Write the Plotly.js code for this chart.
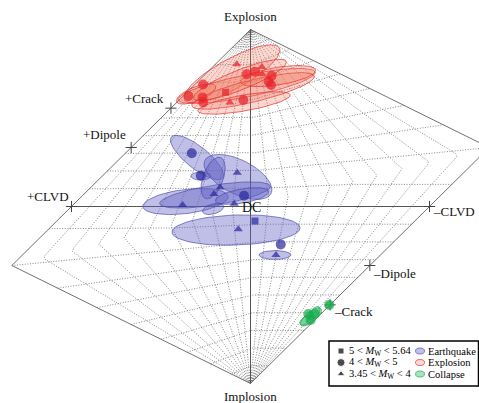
<!DOCTYPE html>
<html>
<head>
<meta charset="utf-8">
<script src="https://cdn.plot.ly/plotly-3.0.1.min.js"></script>
<style>html,body{margin:0;padding:0;background:#fff;}#chart{width:479px;height:403px;}</style>
</head>
<body>
<div id="chart"></div>
<script>
// ---------------- DATA (Hudson u-v coordinates) ----------------
// Earthquakes
const eqU   = [-0.328,-0.278,-0.074,-0.170,-0.204,-0.036,-0.379,-0.091, 0.025,-0.068, 0.169, 0.142];
const eqV   = [ 0.301, 0.174, 0.191, 0.108, 0.071, 0.061, 0.008, 0.016,-0.082,-0.129,-0.214,-0.274];
const eqMag = ['mid','mid','low','low','low','mid','low','low','high','low','mid','low'];
const eqEllU   = [-0.299,-0.070,-0.277,-0.363,-0.198,-0.209,-0.047,-0.209,-0.081, 0.137];
const eqEllV   = [ 0.277, 0.167, 0.172, 0.028, 0.065, 0.161, 0.059,-0.014,-0.133,-0.274];
const eqEllA   = [ 0.184, 0.207, 0.056, 0.240, 0.313, 0.123, 0.151, 0.061, 0.358, 0.089];
const eqEllB   = [ 0.062, 0.096, 0.023, 0.068, 0.056, 0.056, 0.040, 0.028, 0.085, 0.025];
const eqEllAng = [ -39,   -27,    0,     7,     9,    70,    10,    15,     2,     0];

// Explosions
const exU   = [-0.077,-0.021, 0.025, 0.063, 0.066, 0.118, 0.115, 0.101,-0.265,-0.347,-0.268,-0.264,-0.139,-0.115,-0.040];
const exV   = [ 0.803, 0.747, 0.762, 0.788, 0.747, 0.739, 0.686, 0.706, 0.689, 0.624, 0.616, 0.588, 0.645, 0.588, 0.602];
const exMag = ['low','mid','mid','low','low','mid','mid','mid','mid','mid','mid','mid','high','low','mid'];
const exEllU   = [-0.103,-0.022, 0.014,-0.036, 0.154,-0.304,-0.059];
const exEllV   = [ 0.749, 0.681, 0.653, 0.585, 0.737, 0.636, 0.715];
const exEllA   = [ 0.302, 0.391, 0.352, 0.262, 0.212, 0.117, 0.279];
const exEllB   = [ 0.085, 0.062, 0.062, 0.045, 0.050, 0.040, 0.056];
const exEllAng = [  29,   11.5,  13.8,  10,     9,    22,    22];

// Collapses
const coU   = [ 0.440, 0.323, 0.360, 0.336];
const coV   = [-0.556,-0.607,-0.607,-0.641];
const coMag = ['mid','mid','mid','mid'];
const coEllU   = [ 0.338, 0.316, 0.355, 0.439];
const coEllV   = [-0.624,-0.641,-0.602,-0.556];
const coEllA   = [ 0.073, 0.045, 0.045, 0.022];
const coEllB   = [ 0.028, 0.022, 0.022, 0.017];
const coEllAng = [  40,    30,    50,    30];

// Reference source types (tau, k) and their labels
const refNames = ['+Crack','+Dipole','+CLVD','–CLVD','–Dipole','–Crack'];
const refTau   = [-4/9, -2/3, -1, 1, 2/3, 4/9];
const refK     = [ 5/9,  1/3,  0, 0,-1/3,-5/9];

// Grid values
const gridT = [-0.9,-0.8,-0.7,-0.6,-0.5,-0.4,-0.3,-0.2,-0.1,0.1,0.2,0.3,0.4,0.5,0.6,0.7,0.8,0.9];
const gridK = [-0.9,-0.8,-0.7,-0.6,-0.5,-0.4,-0.3,-0.2,-0.1,0.1,0.2,0.3,0.4,0.5,0.6,0.7,0.8,0.9];

// Legend
const magLabels = ['5 &lt; <i>M</i><sub>W</sub> &lt; 5.64','4 &lt; <i>M</i><sub>W</sub> &lt; 5','3.45 &lt; <i>M</i><sub>W</sub> &lt; 4'];
const magSymbols = ['square','circle','triangle-up'];
const typeLabels = ['Earthquake','Explosion','Collapse'];

// ---------------- STYLE ----------------
const FONT = 'Liberation Serif, Times New Roman, serif';
const colors = {
  eq: {fill:'rgba(95,95,195,0.40)', line:'rgba(70,70,170,0.8)', mark:'#28289a'},
  ex: {fill:'rgba(242,110,85,0.28)', line:'rgba(228,40,40,0.85)', mark:'#e8202a'},
  co: {fill:'rgba(60,190,110,0.45)', line:'rgba(30,165,80,0.85)', mark:'#15aa48'}
};
const symOf = {high:'square', mid:'circle', low:'triangle-up'};
const sizeOf = {high:7, mid:10, low:8};

// Hudson (1989) tau-k -> u-v transform
function hud(tau, k){
  if (tau >= 0 && k >= 0){
    if (tau < 4*k) return [tau/(1 - tau/2), k/(1 - tau/2)];
    return [tau/(1 - 2*k), k/(1 - 2*k)];
  }
  if (tau <= 0 && k <= 0){
    const r = hud(-tau, -k); return [-r[0], -r[1]];
  }
  return [tau, k];
}

const traces = [];
const N = 200;

// Grid lines
const gx = [], gy = [];
gridT.forEach(T => {
  for (let i = 0; i <= N; i++){
    const k = -1 + 2*i/N; const p = hud(T*(1 - Math.abs(k)), k);
    gx.push(p[0]); gy.push(p[1]);
  }
  gx.push(null); gy.push(null);
});
gridK.forEach(k => {
  for (let i = 0; i <= N; i++){
    const T = -1 + 2*i/N; const p = hud(T*(1 - Math.abs(k)), k);
    gx.push(p[0]); gy.push(p[1]);
  }
  gx.push(null); gy.push(null);
});
traces.push({x:gx, y:gy, mode:'lines', line:{color:'#6a6a6a', width:0.8, dash:'1px,1.6px'}, hoverinfo:'skip', showlegend:false});

// Boundary (T = +1 and T = -1)
const bx = [], by = [];
[1,-1].forEach(T => {
  for (let i = 0; i <= N; i++){
    const k = -1 + 2*i/N; const p = hud(T*(1 - Math.abs(k)), k);
    bx.push(p[0]); by.push(p[1]);
  }
  bx.push(null); by.push(null);
});
traces.push({x:bx, y:by, mode:'lines', line:{color:'#707070', width:1}, hoverinfo:'skip', showlegend:false});

// Axes (k=0 and T=0)
const ax0 = hud(-1,0), ax1 = hud(1,0), ay0 = hud(0,1), ay1 = hud(0,-1);
traces.push({x:[ax0[0],ax1[0],null,ay0[0],ay1[0]], y:[ax0[1],ax1[1],null,ay0[1],ay1[1]], mode:'lines',
  line:{color:'#555', width:1}, hoverinfo:'skip', showlegend:false});

// Reference crosses
const refPts = refTau.map((t,i) => hud(t, refK[i]));
traces.push({x:refPts.map(p=>p[0]), y:refPts.map(p=>p[1]), mode:'markers',
  marker:{symbol:'cross-thin-open', size:8, color:'#444', line:{color:'#444', width:1}}, hoverinfo:'skip', showlegend:false});

// Ellipses
function ellipse(cu, cv, a, b, angDeg){
  const th = angDeg*Math.PI/180, xs = [], ys = [];
  for (let i = 0; i <= 72; i++){
    const t = 2*Math.PI*i/72;
    xs.push(cu + a*Math.cos(t)*Math.cos(th) - b*Math.sin(t)*Math.sin(th));
    ys.push(cv + a*Math.cos(t)*Math.sin(th) + b*Math.sin(t)*Math.cos(th));
  }
  return [xs, ys];
}
function addEllipses(U,V,A,B,ANG,c){
  U.forEach((u,i) => {
    const [xs,ys] = ellipse(u, V[i], A[i], B[i], ANG[i]);
    traces.push({x:xs, y:ys, mode:'lines', fill:'toself', fillcolor:c.fill, line:{color:c.line, width:0.8}, hoverinfo:'skip', showlegend:false});
  });
}
addEllipses(eqEllU,eqEllV,eqEllA,eqEllB,eqEllAng,colors.eq);
addEllipses(exEllU,exEllV,exEllA,exEllB,exEllAng,colors.ex);
addEllipses(coEllU,coEllV,coEllA,coEllB,coEllAng,colors.co);

// Points
function addPts(U,V,M,c){
  traces.push({x:U, y:V, mode:'markers',
    marker:{symbol:M.map(m=>symOf[m]), size:M.map(m=>sizeOf[m]), color:c.mark, line:{width:0}},
    showlegend:false});
}
addPts(eqU,eqV,eqMag,colors.eq);
addPts(exU,exV,exMag,colors.ex);
addPts(coU,coV,coMag,colors.co);

// Legend symbols on pixel overlay axes
const legRowY = [351, 362.5, 374];
traces.push({x:[341,341,341], y:legRowY, xaxis:'x2', yaxis:'y2', mode:'markers',
  marker:{symbol:magSymbols, size:[6,8,7], color:'#000'}, hoverinfo:'skip', showlegend:false});

// Annotations
const ann = [];
const lab = (text, x, y, xa, ya, xs, ys, sz) => ann.push({text, x, y, xref:'x', yref:'y', xanchor:xa, yanchor:ya, xshift:xs, yshift:ys,
  showarrow:false, font:{family:FONT, size:sz||13, color:'#111'}});
lab('Explosion', 0, 1, 'center', 'bottom', 0, 4);
lab('Implosion', 0, -1, 'center', 'top', 0, -3);
lab('DC', 0, 0, 'center', 'middle', 1, -1, 14);
const offs = [[-5,10,'right'],[-3,13,'right'],[-1,10,'right'],[1,-5,'left'],[1,-8,'left'],[2,-7,'left']];
refNames.forEach((n,i) => lab(n, refPts[i][0], refPts[i][1], offs[i][2], 'middle', offs[i][0], offs[i][1]));

magLabels.forEach((t,i) => ann.push({text:t, x:347, y:legRowY[i], xref:'x2', yref:'y2', xanchor:'left', yanchor:'middle',
  showarrow:false, font:{family:FONT, size:10.5, color:'#000'}}));
typeLabels.forEach((t,i) => ann.push({text:t, x:426, y:legRowY[i], xref:'x2', yref:'y2', xanchor:'left', yanchor:'middle',
  showarrow:false, font:{family:FONT, size:10.5, color:'#000'}}));

// Shapes: legend box + ellipse icons
const legC = [colors.eq, colors.ex, colors.co];
const shapes = [{type:'rect', xref:'x2', yref:'y2', x0:329, x1:478.5, y0:341, y1:386, line:{color:'#000', width:1.5}, layer:'above'}];
legC.forEach((c,i) => shapes.push({type:'circle', xref:'x2', yref:'y2', x0:415.5, x1:424.5, y0:legRowY[i]-3, y1:legRowY[i]+3,
  fillcolor:c.fill, line:{color:c.line, width:0.8}, layer:'above'}));

const layout = {
  width:479, height:403, margin:{l:0,r:0,t:0,b:0},
  paper_bgcolor:'#fff', plot_bgcolor:'#fff', showlegend:false,
  xaxis:{range:[-250.5/179, (479-250.5)/179], visible:false, fixedrange:true},
  yaxis:{range:[(206.5-403)/177, 206.5/177], visible:false, fixedrange:true},
  xaxis2:{range:[0,479], overlaying:'x', anchor:'y2', visible:false},
  yaxis2:{range:[403,0], overlaying:'y', anchor:'x2', visible:false},
  annotations:ann, shapes:shapes
};
Plotly.newPlot('chart', traces, layout, {staticPlot:true, displayModeBar:false});
</script>
</body>
</html>
